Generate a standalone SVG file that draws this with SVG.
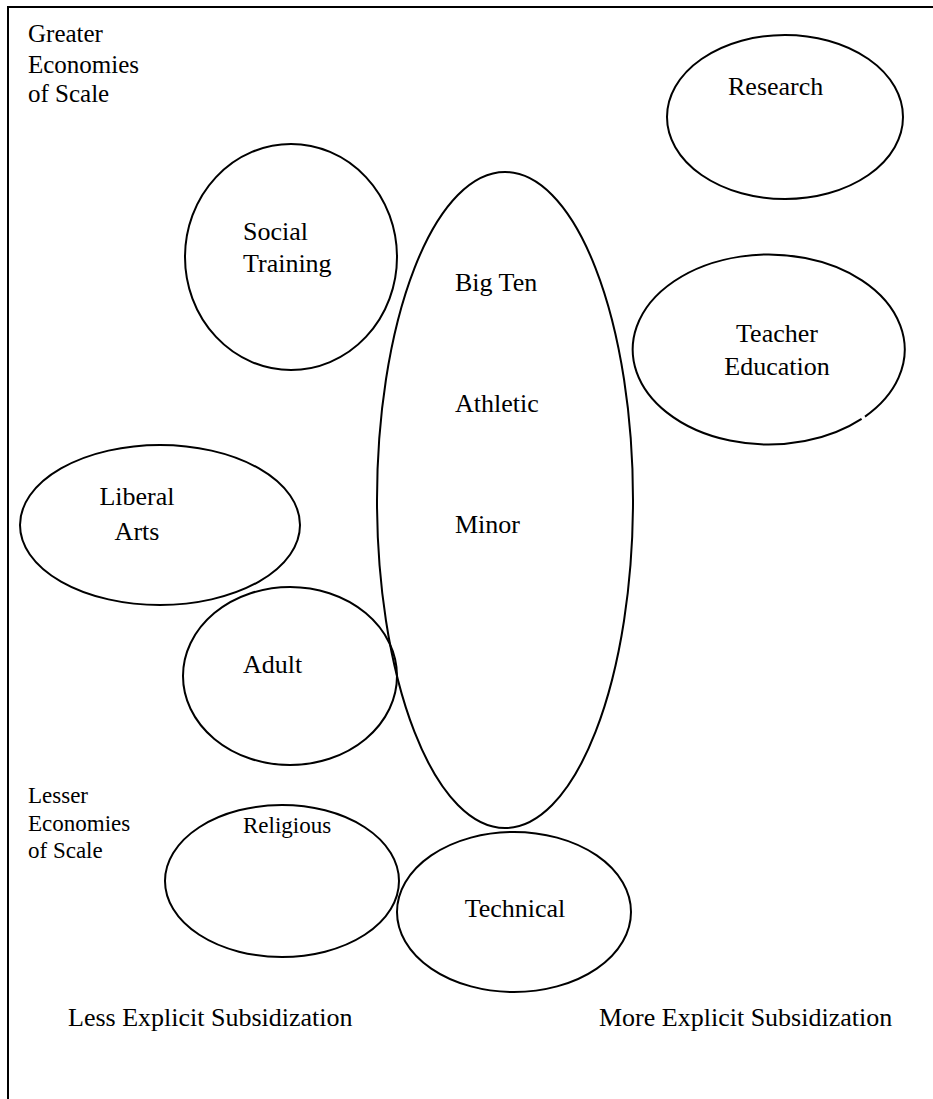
<svg xmlns="http://www.w3.org/2000/svg" width="933" height="1099" viewBox="0 0 933 1099">
<style>
.n{fill:none;stroke:#000;stroke-width:2}
.t{font-family:"Liberation Serif","Times New Roman",serif;font-size:26px;fill:#000}
.s{font-size:23px}
.m{text-anchor:middle}
</style>
<rect width="933" height="1099" fill="#fff"/>
<g id="frame">
<path class="n" d="M8,1099 V7 H933"/>
</g>
<g id="axis-labels">
<text class="t" x="28" y="42" style="font-size:25px">Greater</text>
<text class="t" x="28" y="73" style="font-size:25px">Economies</text>
<text class="t" x="28" y="102" style="font-size:25px">of Scale</text>
<text class="t s" x="28" y="803">Lesser</text>
<text class="t s" x="28" y="831">Economies</text>
<text class="t s" x="28" y="858">of Scale</text>
<text class="t" x="68" y="1026">Less Explicit Subsidization</text>
<text class="t" x="599" y="1026">More Explicit Subsidization</text>
</g>
<g id="research">
<ellipse class="n" cx="785" cy="117" rx="118" ry="82"/>
<text class="t" x="728" y="95">Research</text>
</g>
<g id="social-training">
<ellipse class="n" cx="291" cy="257" rx="106" ry="113"/>
<text class="t" x="243" y="240">Social</text>
<text class="t" x="243" y="272">Training</text>
</g>
<g id="big-ten">
<ellipse class="n" cx="505" cy="500" rx="128" ry="328"/>
<text class="t" x="455" y="291">Big Ten</text>
<text class="t" x="455" y="412">Athletic</text>
<text class="t" x="455" y="533">Minor</text>
</g>
<g id="teacher-education">
<path class="n" d="M865.0,416.6 A136,95 0 1 0 861.6,418.9"/>
<text class="t m" x="777" y="342">Teacher</text>
<text class="t m" x="777" y="375">Education</text>
</g>
<g id="liberal-arts">
<ellipse class="n" cx="160" cy="525" rx="140" ry="80"/>
<text class="t m" x="137" y="505">Liberal</text>
<text class="t m" x="137" y="540">Arts</text>
</g>
<g id="adult">
<ellipse class="n" cx="290" cy="676" rx="107" ry="89"/>
<text class="t" x="243" y="673">Adult</text>
</g>
<g id="religious">
<ellipse class="n" cx="282" cy="881" rx="117" ry="76"/>
<text class="t s" x="243" y="833">Religious</text>
</g>
<g id="technical">
<ellipse class="n" cx="514" cy="912" rx="117" ry="80"/>
<text class="t m" x="515" y="917">Technical</text>
</g>
<g id="connectors"/>
</svg>
